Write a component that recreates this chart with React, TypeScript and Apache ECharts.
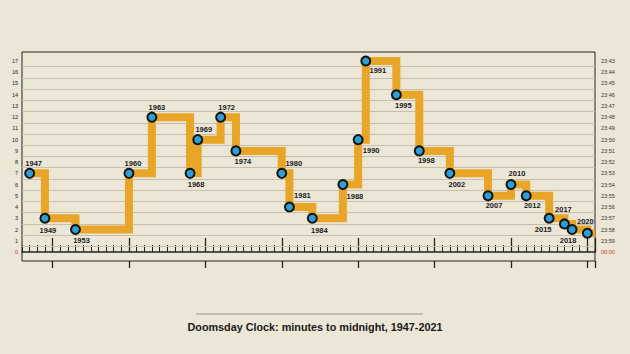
import React, { useEffect, useRef } from "react";
import * as echarts from "echarts";

const years = [1947, 1949, 1953, 1960, 1963, 1968, 1969, 1972, 1974, 1980, 1981, 1984, 1988, 1990, 1991, 1995, 1998, 2002, 2007, 2010, 2012, 2015, 2017, 2018, 2020];
const minutes = [7, 3, 2, 7, 12, 7, 10, 12, 9, 7, 4, 3, 6, 10, 17, 14, 9, 7, 5, 6, 5, 3, 2.5, 2, 1.67];
const endYear = 2021;
const endMinutes = 1.67;
const firstYear = 1946;
const firstDecade = 1950;

const minuteTicks = [0, 1, 2, 3, 4, 5, 6, 7, 8, 9, 10, 11, 12, 13, 14, 15, 16, 17];
const clockLabels = ["00:00", "23:59", "23:58", "23:57", "23:56", "23:55", "23:54", "23:53", "23:52", "23:51", "23:50", "23:49", "23:48", "23:47", "23:46", "23:45", "23:44", "23:43"];
const gridValues = [0.5, 1.5, 2.5, 3.5, 4.5, 5.5, 6.5, 7.5, 8.5, 9.5, 10.5, 11.5, 12.5, 13.5, 14.5, 15.5, 16.5];

const labelOffsets: Record<number, number[]> = {
  1947: [4, -10], 1949: [3, 12], 1953: [6, 11], 1960: [4, -10], 1963: [5, -10],
  1968: [6, 11], 1969: [6, -10], 1972: [6, -10], 1974: [7, 11], 1980: [12, -10],
  1981: [13, -12], 1984: [7, 12], 1988: [12, 12], 1990: [13, 11], 1991: [12, 10],
  1995: [7, 11], 1998: [7, 10], 2002: [7, 11], 2007: [6, 10], 2010: [6, -11],
  2012: [6, 10], 2015: [-6, 11], 2017: [-1, -14], 2018: [-4, 11], 2020: [-2, -12],
};

const FONT = "Liberation Sans, Arial, sans-serif";

export default function App() {
  const ref = useRef<HTMLDivElement>(null);
  useEffect(() => {
    if (!ref.current) return;
    const chart = echarts.init(ref.current, null, { renderer: "svg" });
    const data: any[] = years.map((y, i) => ({
      value: [y, minutes[i]],
      label: { offset: labelOffsets[y] || [0, -10] },
    }));
    data.push({ value: [endYear, endMinutes], symbol: "none", label: { show: false } });

    const plotLeft = 22;
    const plotRight = 595;
    const pxPerYear = (plotRight - plotLeft) / (endYear - firstYear);
    const decadeLeft = plotLeft + (firstDecade - firstYear) * pxPerYear;

    const baseY = {
      type: "value",
      min: -0.8,
      max: 17.8,
      splitLine: { show: false },
      axisTick: { show: false },
      axisLine: { show: false },
    };

    chart.setOption({
      animation: false,
      backgroundColor: "#ECE6D7",
      grid: [
        { left: plotLeft, right: 630 - plotRight, top: 52, bottom: 93, show: true, borderColor: "#222", borderWidth: 1, backgroundColor: "transparent" },
        { left: decadeLeft, right: 630 - plotRight, top: 52, bottom: 93, show: false },
      ],
      xAxis: [
        {
          type: "value",
          gridIndex: 0,
          min: firstYear,
          max: endYear,
          interval: 1,
          position: "bottom",
          axisLabel: { show: false },
          splitLine: { show: false },
          axisLine: { show: true, lineStyle: { color: "#222", width: 1.5 } },
          axisTick: { show: true, inside: true, length: 7, lineStyle: { color: "#222", width: 1 } },
        },
        {
          type: "value",
          gridIndex: 1,
          min: firstDecade,
          max: endYear,
          interval: 10,
          position: "bottom",
          axisLabel: { show: false },
          splitLine: { show: false },
          axisLine: { show: false },
          axisTick: { show: true, inside: true, length: 14, lineStyle: { color: "#222", width: 1.3 } },
        },
        {
          type: "value",
          gridIndex: 1,
          min: firstDecade,
          max: endYear,
          interval: 10,
          position: "bottom",
          axisLabel: { show: false },
          splitLine: { show: false },
          axisLine: { show: false },
          axisTick: { show: true, inside: false, length: 7, lineStyle: { color: "#222", width: 1.3 } },
        },
      ],
      yAxis: [
        {
          ...baseY,
          gridIndex: 0,
          position: "left",
          axisLabel: {
            customValues: minuteTicks,
            margin: 4,
            fontSize: 5.5,
            fontFamily: FONT,
            color: (v: any) => (Number(v) === 0 ? "#d0342c" : "#222"),
            formatter: (v: any) => String(v),
          },
        },
        {
          ...baseY,
          gridIndex: 0,
          position: "right",
          axisLabel: {
            customValues: minuteTicks,
            margin: 6,
            fontSize: 5.5,
            fontFamily: FONT,
            color: (v: any) => (Number(v) === 0 ? "#d0342c" : "#333"),
            formatter: (v: any) => clockLabels[Math.round(Number(v))] || "",
          },
        },
        {
          ...baseY,
          gridIndex: 1,
          show: false,
        },
      ],
      series: [
        {
          type: "line",
          xAxisIndex: 0,
          yAxisIndex: 0,
          step: "end",
          data,
          symbol: "circle",
          symbolSize: 9,
          itemStyle: { color: "#2E9FD6", borderColor: "#141414", borderWidth: 2 },
          lineStyle: { color: "#E9A528", width: 8, join: "miter", cap: "butt" },
          label: {
            show: true,
            position: "inside",
            align: "center",
            verticalAlign: "middle",
            fontSize: 7.5,
            fontWeight: "bold",
            fontFamily: FONT,
            color: "#1a1a1a",
            formatter: (p: any) => String(p.value[0]),
          },
          markLine: {
            silent: true,
            symbol: "none",
            label: { show: false },
            lineStyle: { color: "#C7BEAE", width: 1, type: "solid" },
            data: gridValues.map((v) => ({ yAxis: v })),
            z: 1,
          },
          z: 3,
        },
      ],
      graphic: [
        { type: "line", shape: { x1: 196, y1: 314, x2: 423, y2: 314 }, style: { stroke: "#9a938a", lineWidth: 1 } },
        {
          type: "text",
          x: 315,
          y: 327,
          style: {
            text: "Doomsday Clock: minutes to midnight, 1947-2021",
            fontSize: 10.8,
            fontWeight: "bold",
            fontFamily: FONT,
            fill: "#1a1a1a",
            align: "center",
            verticalAlign: "middle",
          },
        },
      ],
    });
    return () => chart.dispose();
  }, []);
  return <div ref={ref} style={{ position: "fixed", left: 0, top: 0, width: 630, height: 354 }} />;
}
